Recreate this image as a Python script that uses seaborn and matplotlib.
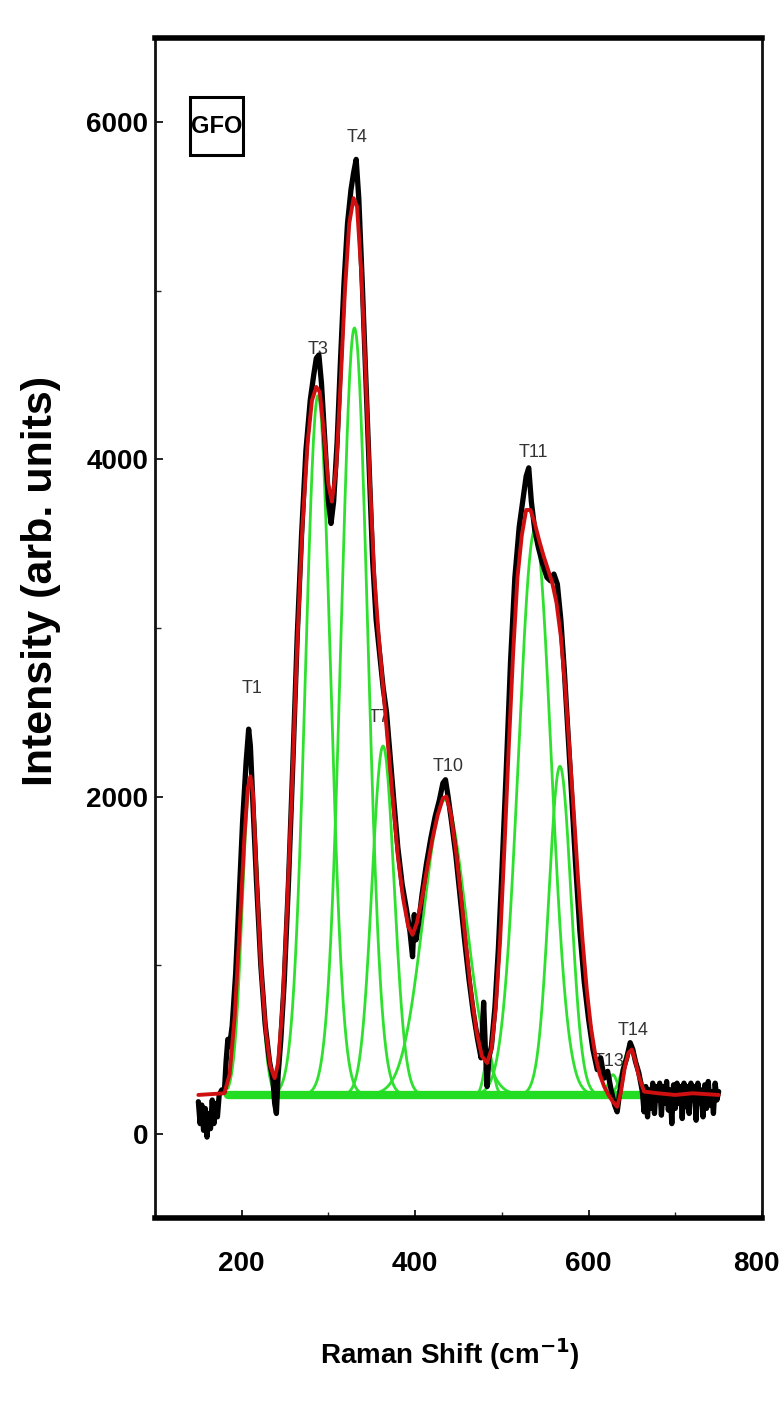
import numpy as np
import pandas as pd
import matplotlib
matplotlib.use("Agg")
import matplotlib.pyplot as plt
import matplotlib.transforms as mtransforms
from matplotlib.patches import Rectangle
import seaborn as sns

# ---------------- data ----------------
# experimental spectrum (black)
exp_shift = [150, 152, 154, 156, 158, 160, 162, 164, 166, 168, 170, 172, 174, 177, 180,
             182, 184, 186, 189, 193, 197, 201, 205, 208, 210, 213, 217, 222, 227, 232,
             236, 238, 240, 242, 245, 249, 254, 259, 264, 269, 274, 279, 283, 286, 289,
             292, 296, 300, 303, 306, 310, 314, 318, 322, 326, 329, 332, 335, 339, 343,
             347, 351, 355, 359, 363, 367, 371, 375, 380, 385, 390, 394, 397, 399, 401,
             404, 408, 413, 418, 423, 428, 432, 435, 438, 442, 447, 452, 457, 462, 467,
             472, 476, 479, 481, 483, 485, 488, 492, 496, 500, 505, 510, 515, 520, 524,
             528, 531, 534, 538, 542, 547, 552, 556, 560, 564, 568, 572, 576, 580, 585,
             590, 595, 600, 605, 610, 614, 618, 622, 626, 630, 633, 636, 640, 644, 648,
             651, 654, 658, 662, 664, 666, 668, 670, 672, 674, 676, 678, 680, 682, 684,
             686, 688, 690, 692, 694, 696, 698, 700, 702, 704, 706, 708, 710, 712, 714,
             716, 718, 720, 722, 724, 726, 728, 730, 732, 734, 736, 738, 740, 742, 744,
             746, 748, 750]
exp_int = [190, 60, 170, 20, 150, -20, 120, 30, 200, 60, 180, 100, 230, 260, 250,
           430, 560, 520, 640, 950, 1400, 1850, 2200, 2400, 2300, 1950, 1500, 1000, 650, 430,
           320, 180, 120, 350, 550, 900, 1500, 2200, 2950, 3550, 4050, 4350, 4500, 4600, 4620,
           4450, 4100, 3750, 3620, 3750, 4100, 4600, 5050, 5400, 5600, 5700, 5780, 5550, 5050, 4500,
           3950, 3400, 3050, 2850, 2650, 2500, 2250, 2000, 1700, 1480, 1330, 1200, 1050, 1300, 1150,
           1250, 1420, 1600, 1750, 1880, 1980, 2080, 2100, 2000, 1850, 1650, 1400, 1150, 920, 720,
           560, 450, 780, 500, 280, 450, 520, 750, 1100, 1550, 2150, 2800, 3300, 3600, 3750,
           3900, 3950, 3750, 3580, 3480, 3380, 3300, 3280, 3320, 3260, 3050, 2750, 2400, 2050, 1600,
           1200, 900, 680, 500, 380, 450, 330, 370, 260, 170, 130, 250, 380, 450, 540,
           500, 430, 360, 250, 130, 280, 100, 260, 150, 300, 120, 280, 200, 300, 110,
           280, 180, 310, 140, 260, 60, 290, 150, 300, 180, 280, 90, 300, 160, 280,
           120, 300, 200, 280, 80, 300, 180, 260, 100, 290, 150, 310, 170, 250, 120,
           300, 200, 250]

# fitted envelope (red)
fit_shift = [150, 180, 186, 192, 198, 203, 207, 210, 213, 217, 222, 228, 233, 238, 242,
             247, 252, 258, 264, 270, 276, 281, 286, 290, 295, 300, 304, 309, 314, 319,
             324, 329, 333, 338, 343, 348, 353, 358, 363, 368, 374, 380, 386, 392, 397,
             402, 408, 414, 420, 426, 432, 436, 441, 447, 453, 459, 465, 471, 477, 483,
             488, 493, 498, 503, 508, 513, 518, 523, 528, 533, 538, 543, 548, 553, 558,
             563, 568, 573, 578, 583, 588, 593, 598, 603, 608, 613, 618, 623, 628, 633,
             637, 642, 646, 650, 654, 658, 664, 680, 700, 720, 750]
fit_int = [230, 240, 350, 700, 1250, 1750, 2050, 2120, 2020, 1550, 1000, 600, 400, 330, 420,
           750, 1300, 2050, 2900, 3600, 4100, 4350, 4430, 4400, 4150, 3850, 3750, 3950, 4450, 5000,
           5400, 5550, 5500, 5100, 4500, 3850, 3300, 2950, 2650, 2350, 2000, 1650, 1400, 1230, 1180,
           1250, 1400, 1580, 1750, 1890, 1990, 2000, 1900, 1680, 1400, 1100, 820, 600, 460, 420,
           500, 750, 1150, 1700, 2300, 2850, 3300, 3550, 3700, 3700, 3620, 3520, 3430, 3350, 3270,
           3150, 2950, 2650, 2280, 1900, 1500, 1150, 850, 620, 460, 350, 280, 230, 190, 160,
           240, 400, 480, 500, 430, 340, 250, 240, 230, 240, 230]

# fitted components (green): centre, height above baseline, FWHM
comp_names = ["T1", "T3", "T4", "T7", "T10", "T_a", "T11", "T12", "T13", "T14"]
comp_center = [210, 288, 330, 363, 434, 485, 538, 567, 628, 648]
comp_height = [1880, 4150, 4550, 2070, 1750, 250, 3350, 1950, 120, 280]
comp_fwhm = [22, 34, 36, 30, 58, 12, 44, 30, 12, 20]
baseline_level = 230
baseline_range = [184, 665]

# peak labels
label_text = ["T1", "T3", "T4", "T7", "T10", "T11", "T13", "T14"]
label_x = [212, 288, 333, 358, 438, 536, 624, 651]
label_y = [2590, 4600, 5860, 2420, 2130, 3990, 380, 560]

x_ticks = [200, 400, 600, 800]
y_ticks = [0, 2000, 4000, 6000]

# ---------------- style ----------------
sns.set_theme(style="white")
plt.rcParams["font.family"] = ["Liberation Sans", "DejaVu Sans"]

fig = plt.figure(figsize=(7.83, 14.13), dpi=100)
ax = fig.add_axes([155 / 783, 1 - 1218 / 1413, (762 - 155) / 783, (1218 - 38) / 1413])

# components
grid = np.linspace(baseline_range[0], baseline_range[1], 600)
for c, h, w in zip(comp_center, comp_height, comp_fwhm):
    s = w / 2.3548
    comp = baseline_level + h * np.exp(-0.5 * ((grid - c) / s) ** 2)
    sns.lineplot(x=grid, y=comp, ax=ax, color="#2fe02f", lw=2.0, sort=False,
                 estimator=None, zorder=2)
sns.lineplot(x=baseline_range, y=[baseline_level, baseline_level], ax=ax,
             color="#22dd22", lw=6, sort=False, estimator=None, zorder=2.5)

# experimental data and fit
exp_df = pd.DataFrame({"shift": exp_shift, "intensity": exp_int})
fit_df = pd.DataFrame({"shift": fit_shift, "intensity": fit_int})
sns.lineplot(data=exp_df, x="shift", y="intensity", ax=ax, color="black", lw=3.8,
             sort=False, estimator=None, zorder=3)
sns.lineplot(data=fit_df, x="shift", y="intensity", ax=ax, color="#d01010", lw=2.8,
             sort=False, estimator=None, zorder=4)

for t, x, y in zip(label_text, label_x, label_y):
    ax.text(x, y, t, ha="center", va="bottom", fontsize=13, color="#333333", zorder=1)

# sample tag
ax.add_patch(Rectangle((0.0577, 0.9008), 0.0873, 0.0492, transform=ax.transAxes,
                       fc="white", ec="black", lw=2.2, zorder=5))
ax.text(0.0577 + 0.0873 / 2, 0.9008 + 0.0492 / 2, "GFO", transform=ax.transAxes,
        ha="center", va="center", fontsize=17, fontweight="bold", color="black", zorder=6)

ax.set_xlim(100, 800)
ax.set_ylim(-500, 6500)
ax.set_xticks(x_ticks)
ax.set_yticks(y_ticks)
ax.set_xticks([300, 500, 700], minor=True)
ax.set_yticks([1000, 3000, 5000], minor=True)
ax.tick_params(axis="both", which="major", direction="in", length=6, width=1.2,
               labelsize=20, colors="black")
ax.tick_params(axis="both", which="minor", direction="in", length=4, width=1.0)
ax.tick_params(axis="x", pad=24, bottom=True, which="both")
ax.tick_params(axis="y", pad=5, left=True, which="both")
for lab in ax.get_xticklabels() + ax.get_yticklabels():
    lab.set_fontweight("bold")
last = ax.get_xticklabels()[-1]
last.set_transform(last.get_transform() +
                   mtransforms.ScaledTranslation(-6 / 100, 0, fig.dpi_scale_trans))

for side in ["top", "bottom"]:
    ax.spines[side].set_linewidth(4)
    ax.spines[side].set_color("black")
for side in ["left", "right"]:
    ax.spines[side].set_linewidth(2)
    ax.spines[side].set_color("#111111")

ax.set_xlabel("Raman Shift (cm$^{\\mathbf{-1}}$)", fontsize=20, fontweight="bold",
              color="black")
ax.set_ylabel("Intensity (arb. units)", fontsize=31, fontweight="bold", color="black")
ax.xaxis.set_label_coords(0.486, -0.10)
ax.yaxis.set_label_coords(-0.155, 0.54)
ax.grid(False)

fig.savefig("out.png", dpi=100)
